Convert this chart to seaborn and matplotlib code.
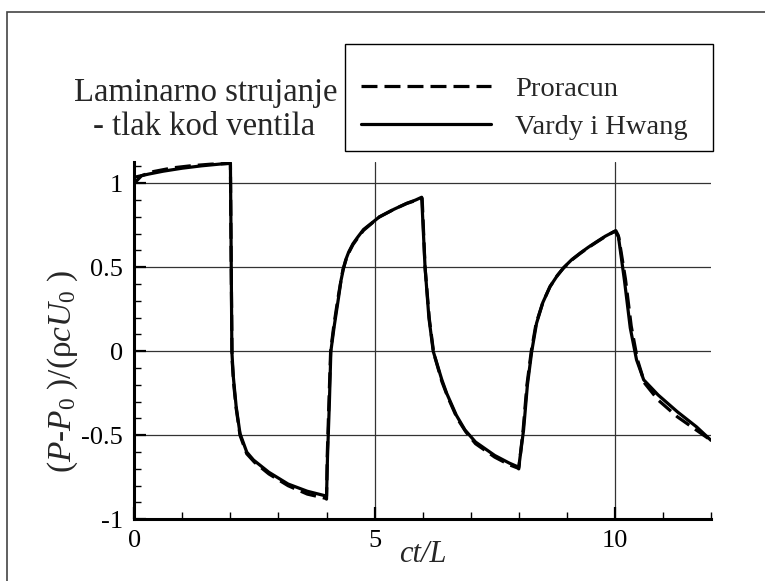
import numpy as np
import pandas as pd
import matplotlib
matplotlib.use("Agg")
import matplotlib.pyplot as plt
import seaborn as sns
from matplotlib.patches import Rectangle
from matplotlib.ticker import MultipleLocator, FixedLocator, FixedFormatter

# ---- data ----
t_vardy = [0.0, 0.3, 0.6, 1.0, 1.4, 1.8, 2.0, 2.015, 2.03, 2.06,
           2.12, 2.2, 2.34, 2.48, 2.8, 3.2, 3.6, 4.0, 4.02, 4.06,
           4.09, 4.16, 4.25, 4.3, 4.35, 4.4, 4.46, 4.55, 4.65, 4.77,
           5.1, 5.4, 5.67, 5.85, 5.98, 6.05, 6.13, 6.22, 6.4, 6.5,
           6.7, 6.88, 7.1, 7.5, 7.8, 8.0, 8.1, 8.18, 8.27, 8.37,
           8.5, 8.65, 8.8, 8.93, 9.1, 9.28, 9.45, 9.62, 9.8, 10.02,
           10.07, 10.2, 10.32, 10.45, 10.6, 10.9, 11.3, 11.7, 12.0]
p_vardy = [1.036, 1.055, 1.072, 1.09, 1.104, 1.115, 1.12, 0.6, 0.0, -0.15,
           -0.33, -0.49, -0.6, -0.647, -0.72, -0.79, -0.833, -0.862, -0.63, -0.3,
           0.0, 0.15, 0.32, 0.42, 0.49, 0.545, 0.59, 0.64, 0.68, 0.725,
           0.80, 0.845, 0.881, 0.9, 0.917, 0.5, 0.2, 0.0, -0.17, -0.25,
           -0.38, -0.468, -0.54, -0.62, -0.665, -0.69, -0.468, -0.2, 0.0, 0.167,
           0.29, 0.385, 0.45, 0.497, 0.545, 0.585, 0.62, 0.652, 0.685, 0.718,
           0.69, 0.42, 0.139, -0.05, -0.17, -0.26, -0.36, -0.45, -0.53]

t_proracun = [0.0, 0.0, 0.15, 0.4, 0.8, 1.2, 1.6, 2.0,
              2.015, 2.035, 2.07, 2.12, 2.2, 2.34, 2.5, 2.8, 3.2, 3.6,
              3.98, 4.0, 4.015, 4.05, 4.085, 4.15, 4.24, 4.3, 4.34, 4.4,
              4.46, 4.55, 4.65, 4.77, 5.1, 5.4, 5.67, 5.85, 5.99, 6.05,
              6.14, 6.23, 6.4, 6.52, 6.72, 6.9, 7.1, 7.5, 7.8, 7.98,
              8.0, 8.09, 8.17, 8.26, 8.36, 8.5, 8.65, 8.8, 8.93, 9.1,
              9.28, 9.45, 9.62, 9.8, 10.0, 10.08, 10.22, 10.34, 10.47, 10.62,
              10.9, 11.3, 11.7, 12.0]
p_proracun = [0.72, 1.0, 1.045, 1.07, 1.092, 1.105, 1.114, 1.118,
              0.55, -0.05, -0.2, -0.34, -0.5, -0.61, -0.66, -0.73, -0.8, -0.85,
              -0.875, -0.88, -0.62, -0.3, 0.0, 0.15, 0.32, 0.42, 0.485, 0.54,
              0.585, 0.635, 0.675, 0.72, 0.80, 0.845, 0.88, 0.897, 0.91, 0.5,
              0.19, -0.01, -0.18, -0.27, -0.4, -0.48, -0.55, -0.63, -0.675, -0.695,
              -0.70, -0.47, -0.2, 0.0, 0.165, 0.29, 0.385, 0.45, 0.495, 0.543,
              0.583, 0.618, 0.65, 0.683, 0.715, 0.68, 0.43, 0.15, -0.05, -0.19,
              -0.29, -0.39, -0.47, -0.53]

series_labels = ["Proracun", "Vardy i Hwang"]
x_ticks = [0, 5, 10]
x_tick_labels = ["0", "5", "10"]
y_ticks = [-1, -0.5, 0, 0.5, 1]
y_tick_labels = ["-1", "-0.5", "0", "0.5", "1"]
title_lines = ["Laminarno strujanje", "- tlak kod ventila"]

# ---- style ----
sns.set_theme(style="white")
plt.rcParams['font.family'] = ['Liberation Serif', 'DejaVu Serif']
plt.rcParams['mathtext.fontset'] = 'custom'
plt.rcParams['mathtext.rm'] = 'Liberation Serif'
plt.rcParams['mathtext.it'] = 'Liberation Serif:italic'
plt.rcParams['axes.unicode_minus'] = False

W, H = 765, 581
FS_TICK = 19
FS_TITLE = 23.5
FS_LEG = 20.5
FS_LAB = 22
FS_YLAB = 24
fig = plt.figure(figsize=(W / 100, H / 100), dpi=100)
fig.patch.set_facecolor("white")

def fx(px):
    return px / W

def fy(py):
    return 1 - py / H

ax_l, ax_r, ax_t, ax_b = 134.3, 711.0, 162.3, 519.3
ax = fig.add_axes([fx(ax_l), fy(ax_b), fx(ax_r) - fx(ax_l), fy(ax_t) - fy(ax_b)])

df_v = pd.DataFrame({"t": t_vardy, "p": p_vardy})
df_p = pd.DataFrame({"t": t_proracun, "p": p_proracun})

sns.lineplot(data=df_v, x="t", y="p", estimator=None, sort=False, ax=ax,
             color="black", linewidth=2.3, label=series_labels[1], zorder=3)
sns.lineplot(data=df_p, x="t", y="p", estimator=None, sort=False, ax=ax,
             color="black", linewidth=2.3, linestyle=(0, (5, 2.2)),
             label=series_labels[0], zorder=4)

ax.set_xlim(0, 12)
ax.set_ylim(-1, 1.125)
ax.set_facecolor("white")

ax.xaxis.set_major_locator(FixedLocator(x_ticks))
ax.xaxis.set_major_formatter(FixedFormatter(x_tick_labels))
ax.xaxis.set_minor_locator(MultipleLocator(1))
ax.yaxis.set_major_locator(FixedLocator(y_ticks))
ax.yaxis.set_major_formatter(FixedFormatter(y_tick_labels))
ax.yaxis.set_minor_locator(MultipleLocator(0.1))

ax.grid(True, which="major", color="#333333", linewidth=0.9)
ax.set_axisbelow(True)

for s in ["top", "right"]:
    ax.spines[s].set_visible(False)
for s in ["left", "bottom"]:
    ax.spines[s].set_color("black")
    ax.spines[s].set_linewidth(2.2)

ax.tick_params(which="major", direction="in", length=8.6, width=1.6,
               color="black", labelsize=FS_TICK, pad=8, left=True, bottom=True,
               labelcolor="black")
ax.tick_params(which="minor", direction="in", length=5, width=1.0,
               color="black", left=True, bottom=True)

ax.set_xlabel("")
ax.set_ylabel("")
if ax.get_legend() is not None:
    ax.get_legend().remove()

# axis titles
fig.text(fx(63), fy(371),
         r"($P$-$P_{\mathit{0}}$ )/(ρ$cU_{\mathit{0}}$ )",
         rotation=90, ha="center", va="center", fontsize=FS_YLAB)
fig.text(fx(423), fy(555), "ct/L", style="italic", ha="center", va="center",
         fontsize=FS_LAB)

# left text block
fig.text(fx(206), fy(93), title_lines[0], ha="center", va="center",
         fontsize=FS_TITLE)
fig.text(fx(204), fy(127), title_lines[1], ha="center", va="center",
         fontsize=FS_TITLE)

# legend with frame box
fig.add_artist(Rectangle((fx(345), fy(151)), fx(713) - fx(345), fy(44) - fy(151),
                         transform=fig.transFigure, fill=False,
                         edgecolor="black", linewidth=1.0))
lines = ax.get_lines()
h_map = {ln.get_label(): ln for ln in lines}
handles = [h_map[series_labels[0]], h_map[series_labels[1]]]
fig.legend(handles, series_labels, loc="center left",
           bbox_to_anchor=(fx(361), fy(108)), frameon=False, fontsize=FS_LEG,
           handlelength=4.55, handletextpad=0.85, labelspacing=0.42,
           borderpad=0, borderaxespad=0)

# outer frame
fig.add_artist(Rectangle((fx(7), -0.05), 1.2, fy(12) + 0.05,
                         transform=fig.transFigure, fill=False,
                         edgecolor="#444444", linewidth=1.2))

fig.savefig("out.png", dpi=100, facecolor="white")
